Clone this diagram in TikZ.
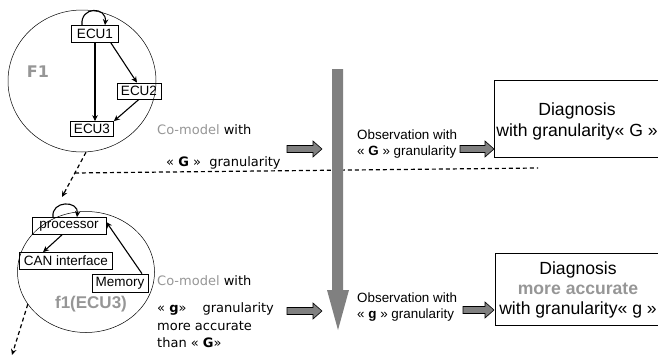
\documentclass[tikz,border=0pt]{standalone}
\usepackage{fontspec}
\setmainfont{Liberation Sans}
\newfontfamily\dejavu{DejaVu Sans}
\usetikzlibrary{arrows.meta,shapes.geometric}
\definecolor{arrgray}{RGB}{128,128,128}
\definecolor{txtgray}{RGB}{150,150,150}
\newcommand{\myBlockArrow}[3]{%
  \draw[fill=arrgray, line width=0.6pt, line join=miter]
    (#1,#3-3.5) -- (#2-9,#3-3.5) -- (#2-9,#3-8) -- (#2,#3) -- (#2-9,#3+8)
    -- (#2-9,#3+3.5) -- (#1,#3+3.5) -- cycle;}
\begin{document}
\begin{tikzpicture}[x=1pt,y=-1pt,
  ecu/.style={draw, line width=0.7pt, inner sep=0pt, font=\fontsize{13.5}{15}\selectfont},
  link/.style={-{Stealth[length=6pt,width=5.5pt]}, line width=1.1pt},
  dashlink/.style={line width=1.2pt, dash pattern=on 4pt off 3pt},
  oval/.style={draw, ellipse, line width=0.5pt, inner sep=0pt},
  lefttxt/.style={font=\dejavu\fontsize{13}{16}\selectfont, anchor=west, inner sep=0pt},
  obs/.style={font=\fontsize{13.4}{16.5}\selectfont, align=left, anchor=west, inner sep=0pt},
  frame/.style={draw, line width=0.8pt, anchor=west, inner sep=0pt},
  diagtxt/.style={font=\fontsize{17.6}{21}\selectfont, align=center, inner sep=0pt},
  graylab/.style={text=txtgray, font=\bfseries\fontsize{17}{20}\selectfont, inner sep=0pt}]
\useasboundingbox (0,0) rectangle (658,356);
\clip (0,0) rectangle (658,356);

% ---- top ellipse F1
\node[oval, minimum width=148, minimum height=142] (F1) at (82,81) {};
\node[ecu, minimum width=47, minimum height=17] (ecu1) at (95,34) {ECU1};
\node[ecu, minimum width=44, minimum height=16] (ecu2) at (139,91) {ECU2};
\node[ecu, minimum width=43, minimum height=15] (ecu3) at (92,129) {ECU3};
\node[graylab, font=\dejavu\bfseries\fontsize{16}{20}\selectfont] (f1lab) at (38,72) {F1};
\draw[link] ([xshift=-13pt]ecu1.north) .. controls +(-2,-19) and +(2,-19) .. ([xshift=10pt]ecu1.north);
\draw[link] (ecu1.south) -- (ecu1.south |- ecu3.north);
\draw[link] ([xshift=-8pt]ecu1.south east) -- ([xshift=-2pt]ecu2.north);
\draw[link] (ecu2.south) -- (ecu3.north east);

% ---- dashed separators
\coordinate (d1) at (62,197);
\draw[dashlink, -{Stealth[length=6pt,width=5.5pt]}] ([xshift=4pt]F1.south) -- (d1);
\coordinate (h1) at (75,173);
\coordinate (h2) at (538,168);
\draw[dashlink] (h1) -- (h2);

% ---- bottom ellipse f1(ECU3)
\node[oval, minimum width=137, minimum height=121] (f1e) at (86,272) {};
\node[ecu, minimum width=74, minimum height=17] (proc) at (69,226) {processor};
\node[ecu, minimum width=93, minimum height=17] (can) at (66,261) {CAN interface};
\node[ecu, minimum width=56, minimum height=18] (mem) at (120,283) {Memory};
\node[graylab] (f1elab) at (91,304) {f1(ECU3)};
\draw[link] ([xshift=-16pt]proc.north) .. controls +(-2,-17) and +(2,-17) .. ([xshift=8pt]proc.north);
\draw[link] ([xshift=-7pt]proc.south) -- ([xshift=-23pt]can.north);
\draw[link] ([xshift=22pt]mem.north) -- ([yshift=4pt]proc.east);
\coordinate (d2) at (12,355);
\draw[dashlink, -{Stealth[length=6pt,width=5.5pt]}] (f1e.209) -- (d2);

% ---- left texts
\node[lefttxt] (cm1) at (157,130) {\textcolor{txtgray}{Co-model} with};
\node[lefttxt] (gg1) at (166,163) {« \textbf{G} »\ \ granularity};
\node[lefttxt] (cm2) at (157,281) {\textcolor{txtgray}{Co-model} with};
\node[lefttxt] (gg2) at (157,309) {« \textbf{g}»\hspace{16pt}granularity};
\node[lefttxt] (ma2) at (157,326) {more accurate};
\node[lefttxt] (th2) at (157,343) {than « \textbf{G}»};

% ---- big vertical arrow
\fill[arrgray] (332,69) -- (343,69) -- (343,290) -- (349,290) -- (338,330) -- (327,290) -- (332,290) -- cycle;

% ---- block arrows
\myBlockArrow{287}{322}{149}
\myBlockArrow{460}{494}{149}
\myBlockArrow{287}{322}{311}
\myBlockArrow{463}{494}{310}

% ---- observation texts
\node[obs] (ob1) at (357,144) {Observation with\\« \textbf{G} » granularity};
\node[obs] (ob2) at (357,307) {Observation with\\« \textbf{g} » granularity};

% ---- diagnosis boxes
\node[frame, minimum width=180, minimum height=77] (dg1) at (494,118.5) {};
\node[diagtxt] (dg1t) at (577,121) {Diagnosis\\with granularity« G »};
\node[frame, minimum width=180, minimum height=72] (dg2) at (495,289) {};
\node[diagtxt, font=\fontsize{17.6}{20}\selectfont] (dg2t) at (578,290)
  {Diagnosis\\\textcolor{txtgray}{\bfseries more accurate}\\with granularity« g »};
\end{tikzpicture}
\end{document}
